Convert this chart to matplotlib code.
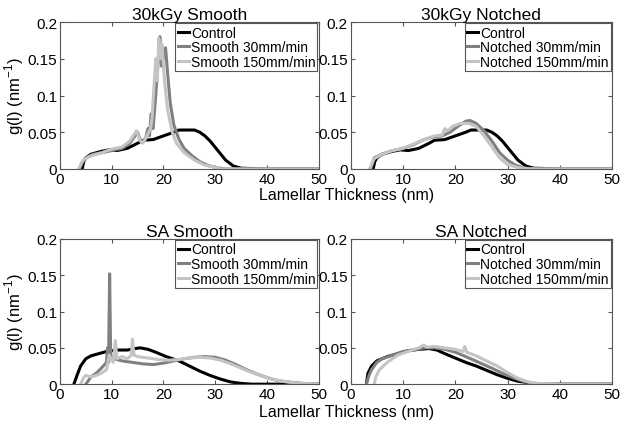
"""Lamellar thickness distributions, 30kGy and SA, smooth and notched."""

from matplotlib import pyplot as plt

plt.rcParams['font.family'] = ['Liberation Sans', 'DejaVu Sans']
plt.rcParams['mathtext.fontset'] = 'custom'
plt.rcParams['mathtext.rm'] = 'Liberation Sans'

# 30kGy control (same trace in both top panels)
ctrl30_x = [4.3, 4.6, 5, 6, 8, 9.5, 11, 13, 15, 16, 18, 20, 22, 23, 24.5, 26, 27,
            28, 29, 30.5, 32, 33.5, 35, 40, 50]
ctrl30_y = [0, 0.010, 0.015, 0.020, 0.024, 0.026, 0.025, 0.028, 0.035, 0.039,
            0.040, 0.045, 0.050, 0.053, 0.053, 0.053, 0.050, 0.045, 0.038,
            0.025, 0.012, 0.004, 0.001, 0, 0]

# 30kGy smooth
sm30_x = [3.8, 4.2, 5, 6.5, 8, 10, 12, 13.5, 14.5, 15, 15.5, 16, 16.5, 17, 17.3,
          17.6, 18, 18.5, 19, 19.3, 19.6, 20.2, 20.4, 20.8, 21.3, 22, 23, 24,
          25.5, 27, 28.5, 30, 32, 50]
sm30_y = [0, 0.008, 0.015, 0.020, 0.022, 0.025, 0.028, 0.035, 0.045, 0.050,
          0.040, 0.037, 0.040, 0.055, 0.045, 0.075, 0.055, 0.100, 0.150, 0.180,
          0.140, 0.160, 0.165, 0.130, 0.090, 0.060, 0.040, 0.028, 0.018, 0.010,
          0.005, 0.002, 0, 0]
sm150_x = [3.6, 4.5, 6, 8, 10, 12, 13.5, 14.8, 15.5, 16, 16.8, 17.5, 17.8, 18.5,
           18.8, 19.1, 19.4, 19.7, 20.2, 20.8, 21.7, 22.5, 24, 26, 28, 30, 31, 50]
sm150_y = [0, 0.012, 0.018, 0.022, 0.027, 0.030, 0.038, 0.052, 0.038, 0.035,
           0.045, 0.055, 0.070, 0.150, 0.120, 0.178, 0.150, 0.170, 0.120, 0.080,
           0.050, 0.035, 0.022, 0.012, 0.005, 0.002, 0, 0]

# 30kGy notched
no30_x = [3.8, 4.5, 6, 8, 10, 12, 14, 16, 17.5, 19, 20.5, 22, 22.8, 24, 25.5,
          27, 28.5, 30, 31.5, 33.5, 36, 50]
no30_y = [0, 0.015, 0.020, 0.025, 0.028, 0.033, 0.040, 0.044, 0.045, 0.050,
          0.058, 0.065, 0.066, 0.062, 0.052, 0.038, 0.022, 0.012, 0.005, 0.001,
          0, 0]
no150_x = [3.6, 4.5, 6, 8, 10, 12, 14, 16, 17.5, 18, 18.5, 19.5, 21, 22.5, 24,
           25.5, 27, 28.5, 30, 32, 34, 50]
no150_y = [0, 0.014, 0.020, 0.025, 0.028, 0.034, 0.040, 0.045, 0.046, 0.055,
           0.052, 0.058, 0.062, 0.062, 0.058, 0.045, 0.030, 0.015, 0.006,
           0.002, 0, 0]

# SA smooth
ctrlsa_x = [2.7, 3.3, 4, 5, 6, 7.5, 9, 11, 13, 14.5, 15.5, 17, 18.5, 20.5, 23,
            25, 27, 29, 31, 33, 35, 37, 50]
ctrlsa_y = [0, 0.012, 0.025, 0.035, 0.039, 0.042, 0.045, 0.047, 0.047, 0.049,
            0.050, 0.048, 0.044, 0.038, 0.032, 0.025, 0.018, 0.012, 0.007,
            0.003, 0.001, 0, 0]
sasm30_x = [5.0, 6, 7, 8, 9, 9.2, 9.4, 9.6, 9.8, 10.5, 12, 14, 16, 18, 20, 22,
            24, 26, 28, 30, 32, 34, 36, 38, 40, 42, 44, 47, 50]
sasm30_y = [0, 0.010, 0.015, 0.022, 0.030, 0.050, 0.030, 0.152, 0.040, 0.035,
            0.032, 0.030, 0.028, 0.027, 0.029, 0.032, 0.035, 0.037, 0.038,
            0.037, 0.033, 0.027, 0.020, 0.014, 0.009, 0.005, 0.003, 0.001, 0]
sasm150_x = [4.0, 4.5, 5, 6, 7, 8, 9, 9.5, 10.3, 10.7, 11, 12, 13, 13.8, 14,
             14.3, 15, 17, 19, 21, 23, 25, 27, 29, 31, 33, 35, 37, 39, 41, 43,
             45, 47, 50]
sasm150_y = [0, 0.008, 0.012, 0.010, 0.012, 0.015, 0.020, 0.040, 0.030, 0.060,
             0.035, 0.038, 0.035, 0.040, 0.062, 0.040, 0.038, 0.036, 0.034,
             0.033, 0.034, 0.036, 0.037, 0.036, 0.033, 0.028, 0.022, 0.016,
             0.011, 0.007, 0.004, 0.002, 0.001, 0]

# SA notched
ctrlsan_x = [3.0, 3.3, 4, 5, 6, 7, 9, 11, 13, 15, 16.5, 18, 20, 22, 24, 26, 28,
             30, 32, 34, 36, 50]
ctrlsan_y = [0, 0.015, 0.025, 0.032, 0.035, 0.038, 0.042, 0.046, 0.048, 0.049,
             0.047, 0.042, 0.036, 0.030, 0.025, 0.019, 0.013, 0.008, 0.004,
             0.002, 0, 0]
sano30_x = [3.0, 3.5, 4, 5, 6, 8, 10, 12, 14, 16, 18, 20, 22, 24.5, 27, 29, 31,
            33, 35, 38, 50]
sano30_y = [0, 0.012, 0.020, 0.030, 0.035, 0.040, 0.045, 0.047, 0.050, 0.050,
            0.048, 0.044, 0.038, 0.030, 0.022, 0.015, 0.009, 0.004, 0.001, 0, 0]
sano150_x = [4.5, 4.8, 5.5, 7, 9, 11, 13, 14, 14.5, 16, 18, 20, 21.5, 21.8,
             22.2, 24, 26, 28, 30, 32, 34, 36, 40, 50]
sano150_y = [0, 0.010, 0.020, 0.030, 0.040, 0.045, 0.050, 0.054, 0.051, 0.052,
             0.050, 0.048, 0.045, 0.052, 0.044, 0.039, 0.032, 0.025, 0.016,
             0.008, 0.003, 0.001, 0, 0]

panels = [
    ('30kGy Smooth', 'Smooth', [(ctrl30_x, ctrl30_y), (sm30_x, sm30_y), (sm150_x, sm150_y)]),
    ('30kGy Notched', 'Notched', [(ctrl30_x, ctrl30_y), (no30_x, no30_y), (no150_x, no150_y)]),
    ('SA Smooth', 'Smooth', [(ctrlsa_x, ctrlsa_y), (sasm30_x, sasm30_y), (sasm150_x, sasm150_y)]),
    ('SA Notched', 'Notched', [(ctrlsan_x, ctrlsan_y), (sano30_x, sano30_y), (sano150_x, sano150_y)]),
]
colors = ['#000000', '#808080', '#c4c4c4']
rects = [
    [0.096, 0.602, 0.415, 0.344],
    [0.562, 0.602, 0.419, 0.344],
    [0.096, 0.098, 0.415, 0.340],
    [0.562, 0.098, 0.419, 0.340],
]

fig = plt.figure(figsize=(6.24, 4.27), dpi=100)

for i, (title, kind, series) in enumerate(panels):
    ax = fig.add_axes(rects[i])
    labels = ['Control', kind + ' 30mm/min', kind + ' 150mm/min']
    for (x, y), c, lab in zip(series, colors, labels):
        ax.plot(x, y, color=c, lw=2.2, label=lab)
    ax.set_xlim(0, 50)
    ax.set_ylim(0, 0.2)
    ax.set_xticks([0, 10, 20, 30, 40, 50])
    ax.set_yticks([0, 0.05, 0.1, 0.15, 0.2])
    ax.set_yticklabels(['0', '0.05', '0.1', '0.15', '0.2'])
    ax.tick_params(direction='in', top=True, right=True, labelsize=11,
                   length=3, color='#555555', pad=2)
    for s in ax.spines.values():
        s.set_color('#555555')
        s.set_linewidth(0.8)
    ax.set_title(title, fontsize=12.5, pad=2)
    if i % 2 == 0:
        ax.set_ylabel('g(l) (nm$^{-1}$)', fontsize=12, labelpad=1)
    leg = ax.legend(loc='upper right', fontsize=10, borderaxespad=0.1,
                    handlelength=0.8, handletextpad=0.15, labelspacing=0.05,
                    borderpad=0.15, fancybox=False, framealpha=1)
    leg.get_frame().set_edgecolor('#555555')
    leg.get_frame().set_linewidth(0.8)

fig.text(0.556, 0.543, 'Lamellar Thickness (nm)', ha='center', va='center', fontsize=11.5)
fig.text(0.556, 0.035, 'Lamellar Thickness (nm)', ha='center', va='center', fontsize=11.5)

fig.savefig('out.png', dpi=100)
